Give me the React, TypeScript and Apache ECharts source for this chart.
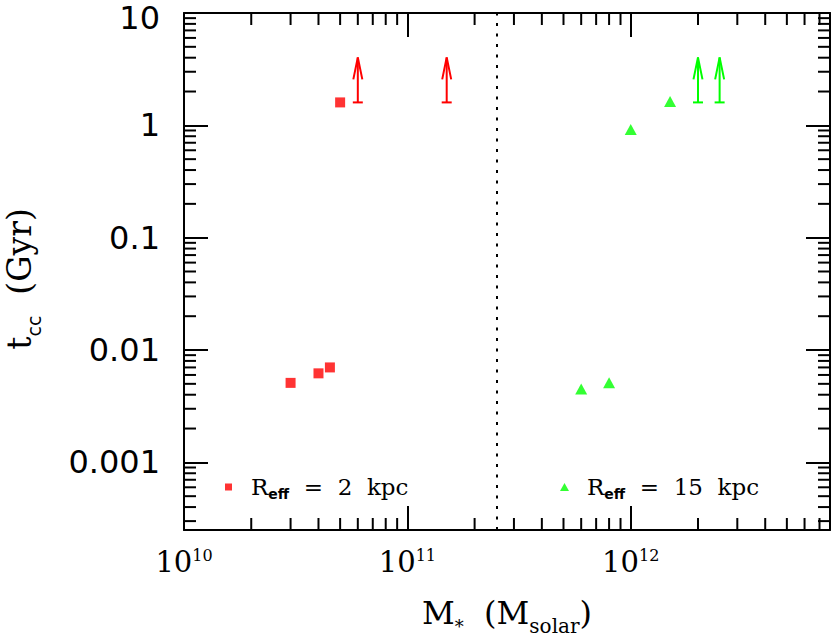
import React, { useEffect, useRef } from 'react';
import * as echarts from 'echarts';

// ---- data ----
const xMin = 1e10;
const xMax = 7.8e12;
const yMin = 2.5e-4;
const yMax = 10;

const redMass = [3.0e10, 4.0e10, 4.5e10, 5.0e10];
const redTcc = [0.0051, 0.0062, 0.0070, 1.6];
const redLimitMass = [6.0e10, 1.5e11];
const redLimitTcc = [1.6, 1.6];

const greenMass = [6.0e11, 8.0e11, 1.0e12, 1.5e12];
const greenTcc = [0.0045, 0.0051, 0.92, 1.63];
const greenLimitMass = [2.0e12, 2.5e12];
const greenLimitTcc = [1.6, 1.6];

const dividerMass = 2.5e11;

const xTickExponents = [10, 11, 12];
const yTickExponents = [-3, -2, -1, 0, 1];
const yTickLabels = ['0.001', '0.01', '0.1', '1', '10'];

const xMinorTicks = [
  2e10, 3e10, 4e10, 5e10, 6e10, 7e10, 8e10, 9e10,
  2e11, 3e11, 4e11, 5e11, 6e11, 7e11, 8e11, 9e11,
  2e12, 3e12, 4e12, 5e12, 6e12, 7e12,
];
const yMinorTicks = [
  3e-4, 4e-4, 5e-4, 6e-4, 7e-4, 8e-4, 9e-4,
  2e-3, 3e-3, 4e-3, 5e-3, 6e-3, 7e-3, 8e-3, 9e-3,
  2e-2, 3e-2, 4e-2, 5e-2, 6e-2, 7e-2, 8e-2, 9e-2,
  0.2, 0.3, 0.4, 0.5, 0.6, 0.7, 0.8, 0.9,
  2, 3, 4, 5, 6, 7, 8, 9,
];

const RED = '#ff0000';
const GREEN = '#00ff00';
const SERIF = 'DejaVu Serif';
const SANS = 'DejaVu Sans';

function decadeOf(v: number): number | null {
  const l = Math.log10(v);
  const e = Math.round(l);
  return Math.abs(l - e) < 1e-6 ? e : null;
}

const axisLine = { show: true, onZero: false, lineStyle: { color: '#000', width: 2 } };
const majorTick = { show: true, inside: true, length: 24, lineStyle: { color: '#000', width: 2 } };

function arrowSeries(mass: number[], tcc: number[], color: string) {
  return {
    type: 'custom',
    silent: true,
    clip: false,
    data: mass.map((m, i) => [m, tcc[i]]),
    encode: { x: 0, y: 1 },
    renderItem: (params: any, api: any) => {
      const p = api.coord([api.value(0), api.value(1)]);
      const x = p[0];
      const yb = p[1];
      const yt = yb - 45;
      const st = { stroke: color, lineWidth: 2, fill: null };
      return {
        type: 'group',
        children: [
          { type: 'line', shape: { x1: x - 5, y1: yb, x2: x + 5, y2: yb }, style: st },
          { type: 'line', shape: { x1: x, y1: yb, x2: x, y2: yt }, style: st },
          {
            type: 'polyline',
            shape: { points: [[x - 4.5, yt + 22], [x, yt], [x + 4.5, yt + 22]] },
            style: st,
          },
        ],
      };
    },
  };
}

function legendRich(pad: number) {
  return {
    r: { fontFamily: SERIF, fontSize: 23, lineHeight: 26, color: '#000', padding: [0, 0, 0, pad] },
    s: { fontFamily: SANS, fontWeight: 'bold', fontSize: 14, lineHeight: 26, color: '#000', padding: [14, 0, 0, 0] },
    t: { fontFamily: SERIF, fontSize: 23, lineHeight: 26, color: '#000' },
  };
}

const yLabelStyle = { fontFamily: SANS, fontSize: 32, lineHeight: 26, color: '#000' };

export default function App() {
  const ref = useRef<HTMLDivElement>(null);
  useEffect(() => {
    document.body.style.margin = '0';
    const chart = echarts.init(ref.current!, null, { renderer: 'svg' });
    const option: any = {
      animation: false,
      backgroundColor: '#fff',
      grid: {
        left: 184,
        top: 13,
        right: 2,
        bottom: 108,
        containLabel: false,
        outerBoundsMode: 'none',
      },
      xAxis: [
        {
          type: 'log',
          logBase: 10,
          min: xMin,
          max: xMax,
          position: 'bottom',
          axisLine,
          axisTick: majorTick,
          splitLine: { show: false },
          minorTick: { show: false },
          axisLabel: {
            margin: 17,
            formatter: (v: number) => {
              const e = decadeOf(v);
              if (e === null || !xTickExponents.includes(e)) return '';
              return `{b|10}{s|${e}}`;
            },
            rich: {
              b: { fontFamily: SERIF, fontSize: 29, lineHeight: 30, color: '#000' },
              s: { fontFamily: SERIF, fontSize: 16, lineHeight: 30, color: '#000', padding: [0, 0, 14, 0] },
            },
          },
          name: '{a|M}{s|*}{a|  (M}{b|solar}{a|)}',
          nameLocation: 'middle',
          nameGap: 67,
          nameTextStyle: {
            rich: {
              a: { fontFamily: SERIF, fontSize: 32, lineHeight: 32, color: '#000' },
              s: { fontFamily: SERIF, fontSize: 18, lineHeight: 32, color: '#000', padding: [26, 0, 0, 0] },
              b: { fontFamily: SERIF, fontSize: 20, lineHeight: 32, color: '#000', padding: [26, 0, 0, 0] },
            },
          },
        },
        {
          type: 'log',
          logBase: 10,
          min: xMin,
          max: xMax,
          position: 'top',
          axisLine,
          axisTick: majorTick,
          splitLine: { show: false },
          axisLabel: { show: false },
        },
      ],
      yAxis: [
        {
          type: 'log',
          logBase: 10,
          min: yMin,
          max: yMax,
          position: 'left',
          axisLine,
          axisTick: majorTick,
          splitLine: { show: false },
          minorTick: { show: false },
          axisLabel: {
            margin: 24,
            ...yLabelStyle,
            formatter: (v: number) => {
              const e = decadeOf(v);
              if (e === null) return '';
              const i = yTickExponents.indexOf(e);
              if (i < 0) return '';
              return e === 1 ? `{top|${yTickLabels[i]}}` : yTickLabels[i];
            },
            rich: {
              top: { ...yLabelStyle, padding: [10, 0, 0, 0] },
            },
          },
          name: '{a|t}{b|cc}{a|  (Gyr)}',
          nameLocation: 'middle',
          nameGap: 148,
          nameRotate: 90,
          nameTextStyle: {
            padding: [0, 15, 0, 0],
            rich: {
              a: { fontFamily: SERIF, fontSize: 33, lineHeight: 33, color: '#000' },
              b: { fontFamily: SANS, fontSize: 19, lineHeight: 33, color: '#000', padding: [28, 0, 0, 0] },
            },
          },
        },
        {
          type: 'log',
          logBase: 10,
          min: yMin,
          max: yMax,
          position: 'right',
          axisLine,
          axisTick: majorTick,
          splitLine: { show: false },
          axisLabel: { show: false },
        },
      ],
      legend: [
        {
          data: ['Reff = 2 kpc'],
          left: 225,
          top: 473,
          padding: 0,
          itemWidth: 7,
          itemHeight: 7,
          icon: 'rect',
          selectedMode: false,
          formatter: () => '{r|R}{s|eff}{t|  =  2  kpc}',
          textStyle: { rich: legendRich(14) },
        },
        {
          data: ['Reff = 15 kpc'],
          left: 560,
          top: 473,
          padding: 0,
          itemWidth: 9,
          itemHeight: 8,
          icon: 'triangle',
          selectedMode: false,
          formatter: () => '{r|R}{s|eff}{t|  =  15  kpc}',
          textStyle: { rich: legendRich(13) },
        },
      ],
      series: [
        {
          name: 'Reff = 2 kpc',
          type: 'scatter',
          data: redMass.map((m, i) => [m, redTcc[i]]),
          symbol: 'rect',
          symbolSize: 10,
          itemStyle: { color: RED },
          markLine: {
            silent: true,
            symbol: ['none', 'none'],
            label: { show: false },
            lineStyle: { color: '#000', width: 2, type: [3, 7.5] },
            data: [{ xAxis: dividerMass }],
          },
        },
        {
          name: 'Reff = 15 kpc',
          type: 'scatter',
          data: greenMass.map((m, i) => [m, greenTcc[i]]),
          symbol: 'triangle',
          symbolSize: [12, 11],
          itemStyle: { color: GREEN },
        },
        arrowSeries(redLimitMass, redLimitTcc, RED),
        arrowSeries(greenLimitMass, greenLimitTcc, GREEN),
        {
          type: 'custom',
          silent: true,
          clip: false,
          data: xMinorTicks.map((v) => [v, 1]),
          encode: { x: 0, y: 1 },
          renderItem: (params: any, api: any) => {
            const p = api.coord([api.value(0), 1]);
            const cs = params.coordSys;
            const st = { stroke: '#000', lineWidth: 2 };
            const b = cs.y + cs.height;
            return {
              type: 'group',
              children: [
                { type: 'line', shape: { x1: p[0], y1: b, x2: p[0], y2: b - 12 }, style: st },
                { type: 'line', shape: { x1: p[0], y1: cs.y, x2: p[0], y2: cs.y + 12 }, style: st },
              ],
            };
          },
        },
        {
          type: 'custom',
          silent: true,
          clip: false,
          data: yMinorTicks.map((v) => [1e11, v]),
          encode: { x: 0, y: 1 },
          renderItem: (params: any, api: any) => {
            const p = api.coord([1e11, api.value(1)]);
            const cs = params.coordSys;
            const st = { stroke: '#000', lineWidth: 2 };
            const r = cs.x + cs.width;
            return {
              type: 'group',
              children: [
                { type: 'line', shape: { x1: cs.x, y1: p[1], x2: cs.x + 12, y2: p[1] }, style: st },
                { type: 'line', shape: { x1: r, y1: p[1], x2: r - 12, y2: p[1] }, style: st },
              ],
            };
          },
        },
      ],
    };
    chart.setOption(option);
    return () => chart.dispose();
  }, []);
  return (
    <div
      ref={ref}
      style={{ position: 'absolute', left: 0, top: 0, width: 832, height: 638 }}
    />
  );
}
